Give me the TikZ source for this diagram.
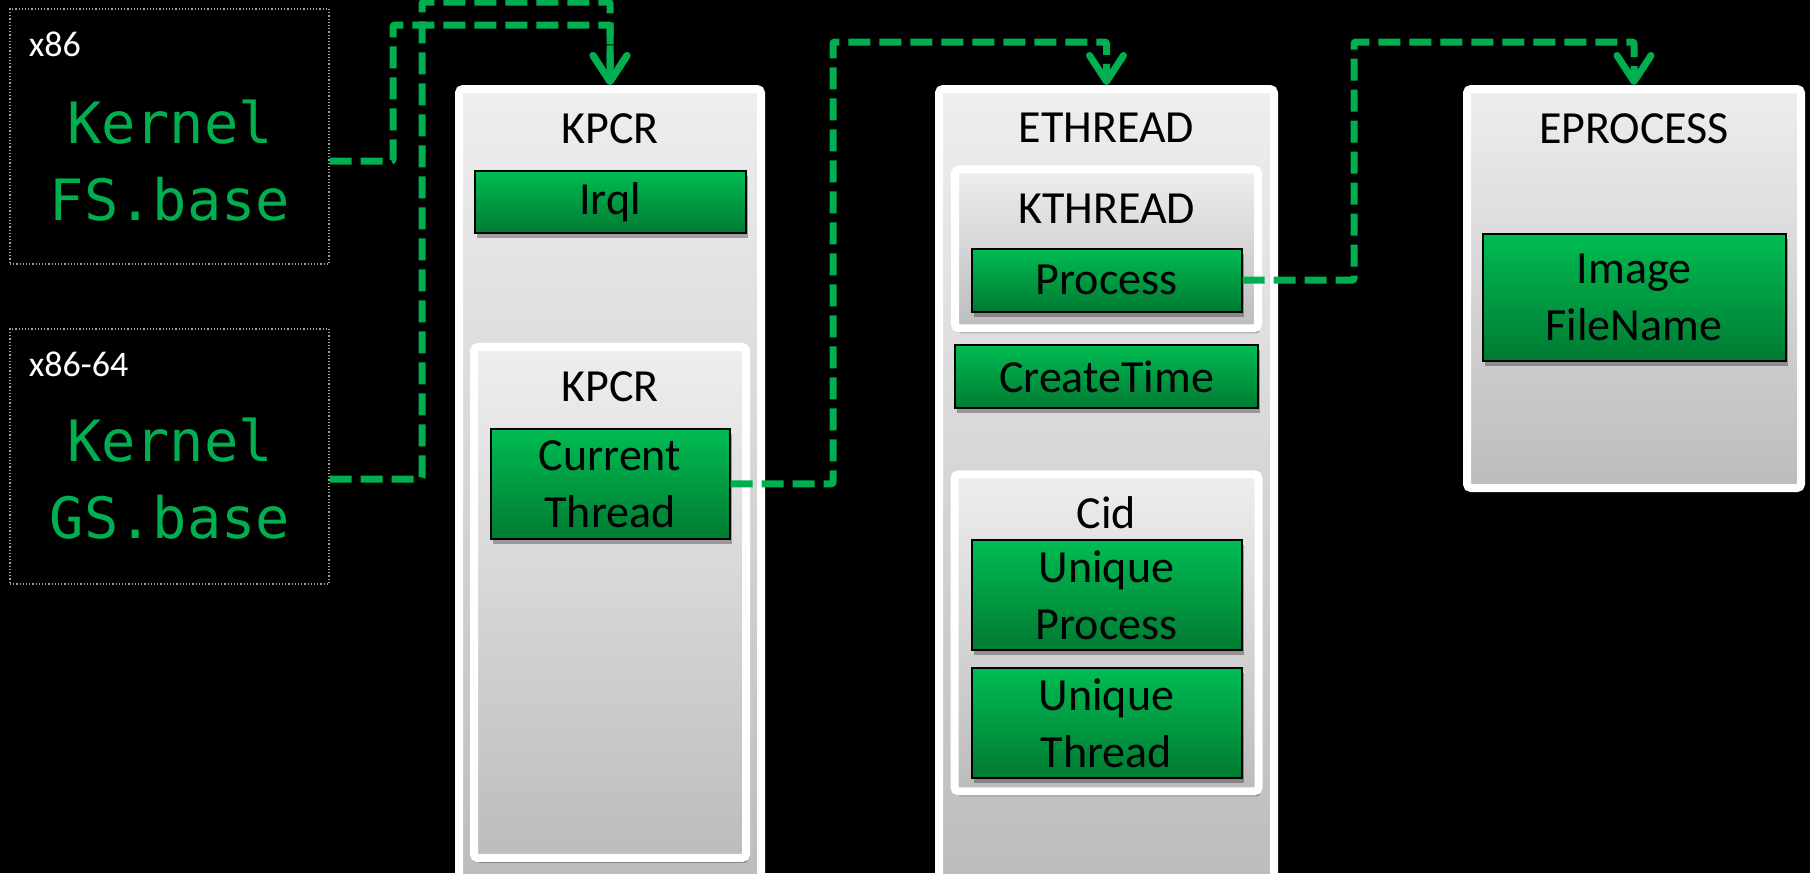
\documentclass[tikz,border=0pt]{standalone}
\usepackage{fontspec}
\setmainfont{Carlito}
\newfontfamily\kmono{DejaVu Sans Mono}
\usepackage{tikz}
\usetikzlibrary{arrows.meta,positioning,shadows}
\definecolor{kgreen}{RGB}{0,176,80}
\definecolor{boxtop}{RGB}{0,188,82}
\definecolor{boxbot}{RGB}{0,122,50}
\definecolor{pantop}{RGB}{238,238,238}
\definecolor{panbot}{RGB}{188,188,188}
\tikzstyle{archbox} = [rectangle, draw=gray!75, densely dotted, line width=0.6pt, minimum width=159.5pt, minimum height=127.5pt, inner sep=0pt]
\tikzstyle{archlbl} = [text=white, font=\fontsize{18}{20}\selectfont, inner sep=0pt]
\tikzstyle{kname} = [text=kgreen, align=center, font=\kmono\fontsize{28.5}{38.5}\selectfont, inner sep=0pt]
\tikzstyle{panel} = [rectangle, rounded corners=2pt, draw=white, line width=4pt, top color=pantop, bottom color=panbot, inner sep=0pt]
\tikzstyle{subpanel} = [panel, drop shadow={shadow xshift=1pt, shadow yshift=-2.5pt, opacity=0.3, fill=black}]
\tikzstyle{hdr} = [text=black, font=\fontsize{23}{28.5}\selectfont, inner sep=0pt]
\tikzstyle{field} = [rectangle, draw=black, line width=1pt, top color=boxtop, bottom color=boxbot, text=black, align=center, font=\fontsize{23}{28.5}\selectfont, inner sep=0pt, drop shadow={shadow xshift=1pt, shadow yshift=-2.5pt, opacity=0.3, fill=black}]
\tikzstyle{ptr} = [draw=kgreen, line width=3.5pt, dash pattern=on 11pt off 4.5pt, rounded corners=1pt, -{Straight Barb[length=13pt,width=17pt,round]}]

\begin{document}
\begin{tikzpicture}[x=0.5pt, y=-0.5pt]

\clip (0,0) rectangle (1810,873);
\fill[black] (0,0) rectangle (1810,873);

% segment registers =============================
\node[archbox] (fsbox) at (169.5,136.5) {};
\node[archlbl, below right=11.5pt and 9.5pt of fsbox.north west] (x86) {x86};
\node[kname] (fsname) at (170,161) {Kernel\\FS.base};

\node[archbox] (gsbox) at (169.5,456.5) {};
\node[archlbl, below right=11.5pt and 9.5pt of gsbox.north west] (x64) {x86-64};
\node[kname] (gsname) at (170,479) {Kernel\\GS.base};

% KPCR
\node[panel, minimum width=151pt, minimum height=396pt] (kpcr) at (610,485) {};
\node[hdr, below=14pt of kpcr.north] (kpcrhdr) {KPCR};
\node[field, below=13pt of kpcrhdr, minimum width=135.5pt, minimum height=31pt] (irql) {Irql};
\node[subpanel, below=54.5pt of irql, minimum width=136pt, minimum height=255.5pt] (kpcrin) {};
\node[hdr, below=14pt of kpcrin.north] (kpcrinhdr) {KPCR};
\node[field, below=13pt of kpcrinhdr, minimum width=119.5pt, minimum height=55pt] (ct) {Current\\Thread};

% ETHREAD
\node[panel, minimum width=167.5pt, minimum height=396pt] (ethread) at (1106.5,485) {};
\node[hdr, below=14pt of ethread.north] (ethreadhdr) {ETHREAD};
\node[subpanel, below=11pt of ethreadhdr, minimum width=151.5pt, minimum height=79.5pt] (kthread) {};
\node[hdr, below=14pt of kthread.north] (kthreadhdr) {KTHREAD};
\node[field, below=12pt of kthreadhdr, minimum width=135pt, minimum height=31.5pt] (proc) {Process};
\node[field, below=6pt of kthread, minimum width=151.5pt, minimum height=31.5pt] (ctime) {CreateTime};
\node[subpanel, below=30.5pt of ctime, minimum width=152pt, minimum height=158.5pt] (cid) {};
\node[hdr, below=13pt of cid.north] (cidhdr) {Cid};
\node[field, below=5pt of cidhdr, minimum width=135pt, minimum height=55pt] (uproc) {Unique\\Process};
\node[field, below=8pt of uproc, minimum width=135pt, minimum height=55pt] (uthread) {Unique\\Thread};

% EPROCESS
\node[panel, minimum width=167pt, minimum height=199.5pt] (eproc) at (1634,288.5) {};
\node[hdr, below=14pt of eproc.north] (eprochdr) {EPROCESS};
\node[field, below=44.5pt of eprochdr, minimum width=151.5pt, minimum height=63.5pt] (ifn) {Image\\FileName};

% bends
\coordinate (fsup) at (393,25);
\coordinate (gsup) at (422,2);
\coordinate (ctup) at (833,42);
\coordinate (procup) at (1354,42);

%edges
\path[ptr] (fsbox.east |- fsname) -| (fsup) -| (kpcr.north);
\path[ptr] (gsbox.east |- gsname) -| (gsup) -| (kpcr.north);
\path[ptr] (ct.east) -| (ctup) -| (ethread.north);
\path[ptr] (proc.east) -| (procup) -| (eproc.north);

\end{tikzpicture}
\end{document}
